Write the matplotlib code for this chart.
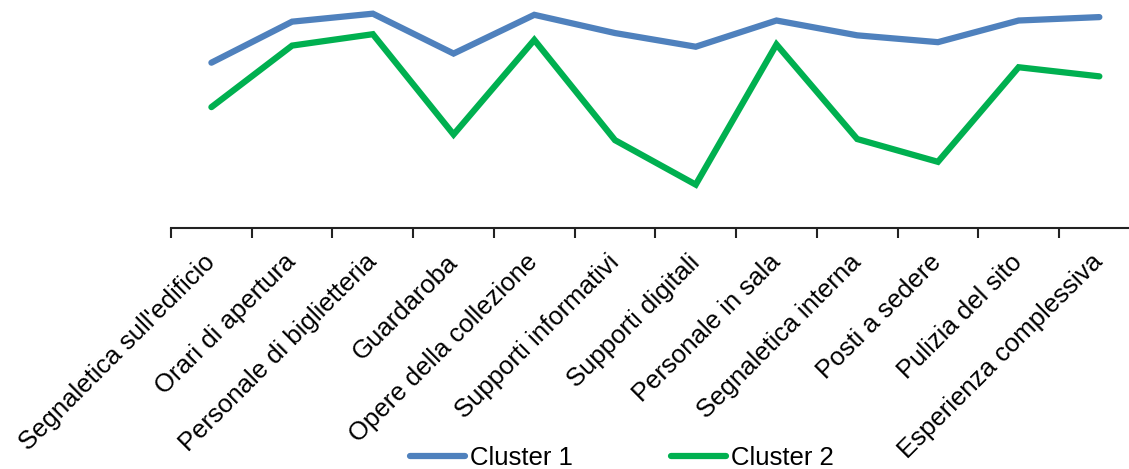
import numpy as np
import matplotlib.pyplot as plt

plt.rcParams['font.family'] = ['Liberation Sans', 'DejaVu Sans']

categories = ["Segnaletica sull'edificio", "Orari di apertura", "Personale di biglietteria",
              "Guardaroba", "Opere della collezione", "Supporti informativi",
              "Supporti digitali", "Personale in sala", "Segnaletica interna",
              "Posti a sedere", "Pulizia del sito", "Esperienza complessiva"]
cluster1 = [4.45, 4.81, 4.88, 4.53, 4.87, 4.71, 4.59, 4.82, 4.69, 4.63, 4.82, 4.85]
cluster2 = [4.06, 4.60, 4.70, 3.82, 4.65, 3.77, 3.38, 4.61, 3.78, 3.58, 4.41, 4.33]

fig = plt.figure(figsize=(11.29, 4.69), dpi=100)
ax = fig.add_axes([0.1515, 0.514, 0.858, 0.486])

x = np.arange(len(categories))
ax.plot(x, cluster1, color='#4F81BD', lw=4.5, label='Cluster 1', solid_capstyle='round', solid_joinstyle='miter')
ax.plot(x, cluster2, color='#00B050', lw=4.5, label='Cluster 2', solid_capstyle='round', solid_joinstyle='miter')

ax.set_xlim(-0.5, len(categories) - 0.5)
ax.set_ylim(3, 5)

# tick marks between categories, labels under each category
ax.set_xticks(np.arange(-0.5, len(categories)), labels=[])
ax.set_xticks(x, labels=categories, minor=True)
ax.tick_params(axis='x', which='major', length=7, width=1.5, color='#222222', direction='out')
ax.tick_params(axis='x', which='minor', length=0, pad=22, labelsize=18.5)
for lbl in ax.get_xticklabels(minor=True):
    lbl.set_rotation(45)
    lbl.set_ha('right')
    lbl.set_va('center')
    lbl.set_rotation_mode('anchor')

ax.set_yticks([])
for s in ['left', 'right', 'top']:
    ax.spines[s].set_visible(False)
ax.spines['bottom'].set_linewidth(1.5)
ax.spines['bottom'].set_color('#222222')

fig.legend(loc='center', bbox_to_anchor=(0.551, 0.024), ncol=2, frameon=False,
           fontsize=18.5, handlelength=2.15, handletextpad=0.2, columnspacing=3.8)

fig.savefig('out.png', dpi=100)
